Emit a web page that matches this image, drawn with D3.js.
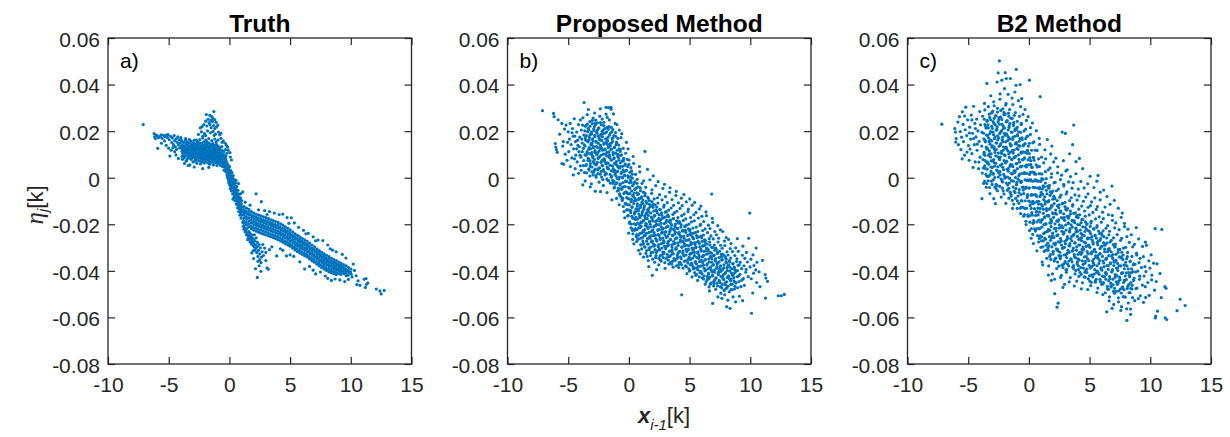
<!DOCTYPE html>
<html>
<head>
<meta charset="utf-8">
<script src="https://cdn.jsdelivr.net/npm/d3@7"></script>
<style>
html,body{margin:0;padding:0;background:#fff;}
svg{display:block;}
</style>
</head>
<body>
<svg id="fig" width="1230" height="437"></svg>
<script>
// Axis ticks shared by the three panels
const xTicks = [-10, -5, 0, 5, 10, 15];
const yTicks = [0.06, 0.04, 0.02, 0, -0.02, -0.04, -0.06, -0.08];
const xDomain = [-10, 15];
const yDomain = [-0.08, 0.06];
const panelTitles = ["Truth", "Proposed Method", "B2 Method"];
const panelTags = ["a)", "b)", "c)"];

// (x_{i-1}[k], eta_j[k]) samples, true relationship
const truthPts = [
[-7.1,.0228],
[-6.2,.0189],[-6.15,.0176],[-6.05,.0183],[-6.1,.0168],[-5.95,.0181],[-5.85,.0172],[-5.9,.0126],[-5.7,.0179],[-5.6,.0184],[-5.55,.0169],[-5.4,.0181],[-5.3,.0176],[-5.35,.0158],[-5.2,.0183],[-5.1,.0172],[-5.05,.0185],[-4.95,.0163],[-4.9,.0093],[-4.85,.0178],[-4.75,.0151],[-4.7,.0171],[-4.6,.0142],[-4.55,.0181],[-4.5,.0159],[-4.45,.0133],[-4.4,.0167],[-5.6,.0148],[-5.2,.0139],[-5.0,.0127],[-4.8,.0118],[-4.65,.0129],[-4.5,.0112],[-4.35,.0122],[-4.3,.0152],[-4.25,.0175],[-4.2,.0141],[-4.15,.0163],[-4.1,.0128],[-4.05,.0149],[-4.0,.0172],[-3.95,.0137],
[-3.92,.0158],[-3.88,.0141],[-3.95,.0131],[-3.86,.0122],[-3.91,.0113],[-3.84,.0104],[-3.9,.0092],[-3.87,.0079],
[-3.77,.0152],[-3.72,.0137],[-3.78,.0127],[-3.74,.0118],[-3.71,.0108],[-3.76,.0097],[-3.73,.0086],
[-3.62,.0161],[-3.58,.0146],[-3.64,.0133],[-3.57,.0124],[-3.61,.0115],[-3.59,.0105],[-3.63,.0093],[-3.56,.0071],
[-3.47,.0153],[-3.43,.0139],[-3.48,.0128],[-3.42,.0119],[-3.46,.0109],[-3.44,.0099],[-3.41,.0087],[-3.49,.0078],
[-3.31,.0149],[-3.28,.0135],[-3.33,.0126],[-3.27,.0116],[-3.32,.0107],[-3.29,.0096],[-3.26,.0055],[-3.3,.0085],
[-3.17,.0157],[-3.13,.0142],[-3.16,.0131],[-3.12,.0121],[-3.18,.0112],[-3.14,.0102],[-3.11,.0091],[-3.15,.0079],
[-3.02,.0151],[-2.98,.0138],[-3.01,.0127],[-2.97,.0117],[-3.03,.0108],[-2.99,.0097],[-2.96,.0086],[-3.0,.0068],
[-2.87,.0146],[-2.83,.0134],[-2.86,.0124],[-2.82,.0114],[-2.88,.0104],[-2.84,.0093],[-2.81,.0082],[-2.85,.0071],
[-2.72,.0161],[-2.68,.0143],[-2.71,.0131],[-2.67,.0121],[-2.73,.0111],[-2.69,.0101],[-2.66,.0089],[-2.7,.0077],[-2.68,.0062],
[-2.57,.0152],[-2.53,.0139],[-2.56,.0128],[-2.52,.0117],[-2.58,.0107],[-2.54,.0097],[-2.51,.0086],[-2.55,.0074],
[-2.42,.0149],[-2.38,.0136],[-2.41,.0125],[-2.37,.0114],[-2.43,.0104],[-2.39,.0094],[-2.36,.0083],[-2.4,.0071],[-2.38,.0059],
[-2.27,.0146],[-2.23,.0133],[-2.26,.0122],[-2.22,.0112],[-2.28,.0102],[-2.24,.0091],[-2.21,.0081],[-2.25,.0069],
[-2.12,.0154],[-2.08,.0139],[-2.11,.0128],[-2.07,.0118],[-2.13,.0108],[-2.09,.0097],[-2.06,.0087],[-2.1,.0076],[-2.08,.0063],
[-1.97,.0147],[-1.93,.0133],[-1.96,.0123],[-1.92,.0112],[-1.98,.0102],[-1.94,.0092],[-1.91,.0081],[-1.95,.0069],
[-1.82,.0143],[-1.78,.0131],[-1.81,.0119],[-1.77,.0109],[-1.83,.0099],[-1.79,.0088],[-1.76,.0077],[-1.8,.0064],
[-1.67,.0149],[-1.63,.0136],[-1.66,.0125],[-1.62,.0115],[-1.68,.0104],[-1.64,.0094],[-1.61,.0083],[-1.65,.0072],[-1.63,.0058],
[-1.52,.0142],[-1.48,.0131],[-1.51,.0119],[-1.47,.0109],[-1.53,.0099],[-1.49,.0088],[-1.46,.0078],[-1.5,.0066],
[-1.37,.0146],[-1.33,.0134],[-1.36,.0122],[-1.32,.0112],[-1.38,.0101],[-1.34,.0091],[-1.31,.0081],[-1.35,.0069],[-1.33,.0055],
[-1.22,.0139],[-1.18,.0127],[-1.21,.0116],[-1.17,.0106],[-1.23,.0096],[-1.19,.0085],[-1.16,.0075],[-1.2,.0063],
[-1.07,.0143],[-1.03,.0131],[-1.06,.0119],[-1.02,.0109],[-1.08,.0098],[-1.04,.0088],[-1.01,.0077],[-1.05,.0066],[-1.03,.0052],
[-0.92,.0136],[-0.88,.0124],[-0.91,.0113],[-0.87,.0103],[-0.93,.0093],[-0.89,.0082],[-0.86,.0072],[-0.9,.0061],
[-0.77,.0129],[-0.73,.0118],[-0.76,.0107],[-0.72,.0097],[-0.78,.0087],[-0.74,.0076],[-0.71,.0066],[-0.75,.0054],
[-0.62,.0134],[-0.58,.0116],[-0.61,.0103],[-0.57,.0092],[-0.63,.0081],[-0.59,.0071],[-0.56,.0061],[-0.6,.0049],
[-0.47,.0112],[-0.43,.0098],[-0.46,.0087],[-0.42,.0077],[-0.48,.0066],[-0.44,.0056],[-0.41,.0045],[-0.45,.0032],
[-0.32,.0121],[-0.28,.0093],[-0.31,.0081],[-0.27,.0071],[-0.33,.0061],[-0.29,.0049],[-0.26,.0038],[-0.3,.0026],
[-2.9,.0046],[-2.2,.0039],[-1.7,.0044],[-3.4,.0052],[-4.2,.0083],[-4.4,.0098],[-3.7,.0061],
[-1.28,.0284],[-1.9,.0271],[-1.45,.0262],[-1.62,.0268],[-1.35,.0255],
[-1.75,.0251],[-1.52,.0247],[-1.2,.0249],[-1.95,.0243],[-1.4,.0241],[-1.1,.0238],[-1.68,.0237],
[-2.4,.0214],[-2.1,.0228],[-1.85,.0222],[-1.6,.0229],[-1.3,.0224],[-1.05,.0218],[-1.5,.0215],[-2.25,.0219],[-1.2,.0211],[-0.95,.0226],
[-2.55,.0186],[-2.3,.0197],[-2.05,.0189],[-1.8,.0201],[-1.55,.0193],[-1.35,.0199],[-1.15,.0187],[-0.9,.0196],[-0.7,.0191],[-1.95,.0181],[-1.25,.0182],[-0.8,.0184],[-2.2,.0178],
[-2.45,.0164],[-2.2,.0171],[-1.95,.0162],[-1.7,.0168],[-1.45,.0159],[-1.2,.0166],[-0.95,.0161],[-0.7,.0169],[-0.5,.0158],[-0.35,.0148],[-0.25,.0139],[-1.85,.0155],[-1.1,.0153],[-0.6,.0152],[-2.65,.0154],[-2.9,.0161],[-3.3,.0164],[-3.6,.0168],[-4.0,.0162],
[-0.15,.0131],[-0.1,.0118],[0.05,.0108],[0.17,.0076],[-0.2,.0105],[0.08,.0089],
[-0.21,.0062],[-0.18,.0049],[-0.22,.0037],[-0.17,.0025],[-0.2,.0013],[-0.16,.0001],
[-0.11,.0055],[-0.08,.0041],[-0.12,.0029],[-0.07,.0016],[-0.1,.0004],[-0.09,-.0009],[-0.06,-.0021],
[0.01,.0048],[-0.02,.0033],[0.02,.0019],[-0.01,.0006],[0.03,-.0007],[0.0,-.0019],[0.02,-.0031],
[0.11,.0031],[0.08,.0018],[0.12,.0004],[0.09,-.0009],[0.13,-.0022],[0.1,-.0035],[0.07,-.0047],
[0.21,.0022],[0.18,.0008],[0.22,-.0006],[0.19,-.0019],[0.23,-.0032],[0.2,-.0044],[0.17,-.0057],
[0.31,.0009],[0.28,-.0004],[0.32,-.0018],[0.29,-.0031],[0.33,-.0044],[0.3,-.0057],[0.27,-.0069],
[0.41,-.0008],[0.38,-.0021],[0.42,-.0034],[0.39,-.0047],[0.43,-.0059],[0.4,-.0071],[0.37,-.0083],
[0.51,-.0023],[0.48,-.0037],[0.52,-.0049],[0.49,-.0062],[0.53,-.0074],[0.5,-.0087],[0.47,-.0099],
[0.61,-.0038],[0.58,-.0052],[0.62,-.0064],[0.59,-.0077],[0.63,-.0089],[0.6,-.0101],[0.57,-.0113],
[0.71,-.0054],[0.68,-.0068],[0.72,-.0081],[0.69,-.0093],[0.73,-.0105],[0.7,-.0117],[0.67,-.0129],
[0.81,-.0071],[0.78,-.0085],[0.82,-.0097],[0.79,-.0109],[0.83,-.0121],[0.8,-.0133],[0.77,-.0145],
[0.91,-.0087],[0.88,-.0101],[0.92,-.0113],[0.89,-.0125],[0.93,-.0137],[0.9,-.0149],[0.87,-.0161],
[1.01,-.0098],[0.98,-.0112],[1.02,-.0124],[0.99,-.0136],[1.03,-.0148],[1.0,-.0161],[0.97,-.0174],
[0.55,-.0012],[0.95,-.0068],[0.3,-.0092],[1.1,-.0061],[0.75,-.0025],
[1.21,-.0124],[1.18,-.0137],[1.23,-.0149],[1.19,-.016],[1.22,-.0172],[1.17,-.0184],[1.2,-.0196],
[1.41,-.0131],[1.38,-.0144],[1.43,-.0155],[1.39,-.0167],[1.42,-.0178],[1.37,-.0191],[1.4,-.0203],
[1.61,-.0136],[1.58,-.0149],[1.63,-.0161],[1.59,-.0173],[1.62,-.0186],[1.57,-.0198],[1.6,-.0211],
[1.81,-.0146],[1.78,-.0158],[1.83,-.017],[1.79,-.0182],[1.82,-.0194],[1.77,-.0207],[1.8,-.0219],
[2.01,-.0152],[1.98,-.0164],[2.03,-.0177],[1.99,-.0189],[2.02,-.0201],[1.97,-.0213],[2.0,-.0225],
[2.21,-.0157],[2.18,-.0169],[2.23,-.0181],[2.19,-.0193],[2.22,-.0205],[2.17,-.0217],[2.2,-.0229],
[2.41,-.0161],[2.38,-.0173],[2.43,-.0185],[2.39,-.0197],[2.42,-.0209],[2.37,-.0221],[2.4,-.0234],
[2.61,-.0164],[2.58,-.0177],[2.63,-.0189],[2.59,-.0201],[2.62,-.0213],[2.57,-.0225],[2.6,-.0238],
[2.81,-.0168],[2.78,-.0181],[2.83,-.0193],[2.79,-.0205],[2.82,-.0217],[2.77,-.0229],[2.8,-.0242],
[3.01,-.0171],[2.98,-.0184],[3.03,-.0197],[2.99,-.0209],[3.02,-.0221],[2.97,-.0233],[3.0,-.0246],
[3.21,-.0176],[3.18,-.0189],[3.23,-.0201],[3.19,-.0213],[3.22,-.0225],[3.17,-.0237],[3.2,-.0249],
[3.41,-.0181],[3.38,-.0193],[3.43,-.0205],[3.39,-.0217],[3.42,-.0229],[3.37,-.0241],[3.4,-.0253],
[3.61,-.0184],[3.58,-.0197],[3.63,-.0209],[3.59,-.0221],[3.62,-.0233],[3.57,-.0245],[3.6,-.0257],
[3.81,-.0188],[3.78,-.0201],[3.83,-.0213],[3.79,-.0225],[3.82,-.0237],[3.77,-.0249],[3.8,-.0261],
[4.01,-.0192],[3.98,-.0205],[4.03,-.0217],[3.99,-.0229],[4.02,-.0241],[3.97,-.0253],[4.0,-.0266],
[4.21,-.0198],[4.18,-.0211],[4.23,-.0223],[4.19,-.0235],[4.22,-.0247],[4.17,-.0259],[4.2,-.0271],
[4.41,-.0204],[4.38,-.0217],[4.43,-.0229],[4.39,-.0241],[4.42,-.0253],[4.37,-.0265],[4.4,-.0277],
[4.61,-.0211],[4.58,-.0223],[4.63,-.0235],[4.59,-.0247],[4.62,-.0259],[4.57,-.0271],[4.6,-.0283],
[4.81,-.0217],[4.78,-.0229],[4.83,-.0241],[4.79,-.0253],[4.82,-.0265],[4.77,-.0277],[4.8,-.0289],
[5.01,-.0224],[4.98,-.0236],[5.03,-.0248],[4.99,-.0259],[5.02,-.0271],[4.97,-.0283],[5.0,-.0294],
[5.21,-.0233],[5.18,-.0245],[5.23,-.0256],[5.19,-.0267],[5.22,-.0279],[5.17,-.0291],[5.2,-.0302],
[5.41,-.0241],[5.38,-.0253],[5.43,-.0264],[5.39,-.0275],[5.42,-.0287],[5.37,-.0299],[5.4,-.031],
[5.61,-.0248],[5.58,-.026],[5.63,-.0271],[5.59,-.0282],[5.62,-.0294],[5.57,-.0306],[5.6,-.0317],
[5.81,-.0254],[5.78,-.0266],[5.83,-.0277],[5.79,-.0288],[5.82,-.03],[5.77,-.0312],[5.8,-.0323],
[6.01,-.0261],[5.98,-.0273],[6.03,-.0284],[5.99,-.0295],[6.02,-.0306],[5.97,-.0318],[6.0,-.0329],
[6.21,-.0267],[6.18,-.0279],[6.23,-.029],[6.19,-.0301],[6.22,-.0312],[6.17,-.0324],[6.2,-.0335],
[6.41,-.0273],[6.38,-.0285],[6.43,-.0296],[6.39,-.0307],[6.42,-.0318],[6.37,-.033],[6.4,-.0341],
[6.61,-.0281],[6.58,-.0293],[6.63,-.0304],[6.59,-.0315],[6.62,-.0326],[6.57,-.0338],[6.6,-.0349],
[6.81,-.0289],[6.78,-.0301],[6.83,-.0312],[6.79,-.0323],[6.82,-.0334],[6.77,-.0346],[6.8,-.0357],
[7.01,-.0297],[6.98,-.0308],[7.03,-.0319],[6.99,-.033],[7.02,-.0341],[6.97,-.0352],[7.0,-.0363],
[7.21,-.0305],[7.18,-.0316],[7.23,-.0327],[7.19,-.0338],[7.22,-.0349],[7.17,-.036],[7.2,-.0371],
[7.41,-.0313],[7.38,-.0324],[7.43,-.0335],[7.39,-.0346],[7.42,-.0357],[7.37,-.0368],[7.4,-.0379],
[7.61,-.032],[7.58,-.0331],[7.63,-.0342],[7.59,-.0353],[7.62,-.0364],[7.57,-.0375],[7.6,-.0386],
[7.81,-.0327],[7.78,-.0338],[7.83,-.0349],[7.79,-.0359],[7.82,-.037],[7.77,-.0381],[7.8,-.0392],
[8.01,-.0333],[7.98,-.0344],[8.03,-.0355],[7.99,-.0365],[8.02,-.0376],[7.97,-.0387],[8.0,-.0398],
[8.21,-.0339],[8.18,-.035],[8.23,-.0361],[8.19,-.0371],[8.22,-.0382],[8.17,-.0393],[8.2,-.0404],
[8.41,-.0346],[8.38,-.0357],[8.43,-.0367],[8.39,-.0377],[8.42,-.0388],[8.37,-.0398],[8.4,-.0409],
[8.61,-.0352],[8.58,-.0362],[8.63,-.0372],[8.59,-.0382],[8.62,-.0392],[8.57,-.0402],[8.6,-.0412],
[8.81,-.0356],[8.78,-.0366],[8.83,-.0376],[8.79,-.0386],[8.82,-.0396],[8.77,-.0406],[8.8,-.0416],
[9.01,-.0362],[8.98,-.0372],[9.03,-.0381],[8.99,-.0391],[9.02,-.0401],[8.97,-.0411],
[9.21,-.0368],[9.18,-.0377],[9.23,-.0387],[9.19,-.0396],[9.22,-.0406],[9.17,-.0416],
[9.41,-.0373],[9.38,-.0384],[9.43,-.0393],[9.39,-.0402],[9.42,-.0412],
[9.61,-.0378],[9.58,-.0391],[9.63,-.04],[9.59,-.041],[9.62,-.0421],
[9.81,-.0385],[9.78,-.0398],[9.83,-.0407],[9.79,-.0418],
[10.01,-.0392],[9.98,-.0404],[10.03,-.0414],[10.1,-.0426],
[10.3,-.0398],[10.45,-.0421],[10.6,-.0443],[10.5,-.0459],[10.75,-.0462],[11.1,-.0436],[11.25,-.0433],[11.3,-.0458],[11.2,-.0471],[11.4,-.0452],[12.1,-.0478],[12.5,-.0499],[12.75,-.0484],[12.4,-.0486],
[1.3,-.0105],[1.7,-.0118],[2.2,-.0069],[2.63,-.0103],[2.9,-.0141],[3.3,-.0145],[3.7,-.0152],[4.1,-.0158],[4.4,-.0156],[4.75,-.0171],[5.1,-.0172],[5.35,-.0194],[5.7,-.0213],[6.1,-.0226],[6.5,-.0239],[6.9,-.0254],[7.3,-.0268],[7.7,-.027],[8.1,-.0289],[8.5,-.0311],[8.8,-.0318],[9.3,-.0329],[9.6,-.0345],[10.2,-.0371],[4.9,-.0196],[3.1,-.0158],[2.4,-.0138],[6.3,-.0241],[7.1,-.0271],[8.3,-.0305],
[3.9,-.0336],[4.7,-.0336],[6.2,-.0392],[7.1,-.0413],[9.1,-.0439],[5.3,-.0338],[5.8,-.0361],[6.6,-.0381],[7.5,-.0405],[8.1,-.0432],[8.7,-.0435],[9.5,-.0446],[4.2,-.0305],[3.5,-.0297],[5.0,-.0331],[6.9,-.0397],[7.9,-.0422],[8.4,-.0441],[9.8,-.0437],[4.4,-.0312],
[1.1,-.0192],[1.15,-.0208],[1.2,-.0221],[1.25,-.0214],[1.3,-.0233],[1.35,-.0226],[1.4,-.0245],[1.45,-.0218],[1.5,-.0238],[1.55,-.0254],[1.5,-.0266],[1.6,-.0231],[1.6,-.0247],[1.65,-.0262],[1.7,-.0275],[1.7,-.0239],[1.75,-.0253],[1.8,-.0268],[1.8,-.0284],[1.85,-.0246],[1.9,-.0259],[1.9,-.0276],[1.95,-.0291],[2.0,-.0265],[2.0,-.0282],[2.05,-.0298],[2.05,-.0245],[2.1,-.0271],[2.1,-.0311],[2.15,-.0289],[2.2,-.0302],[2.2,-.0258],[2.25,-.0321],[2.3,-.0278],[2.3,-.0296],[2.35,-.0338],[2.4,-.0312],[2.45,-.0287],[2.5,-.0352],[2.5,-.0327],[2.55,-.0301],[2.6,-.0365],[2.65,-.0341],[2.7,-.0318],[2.75,-.0287],[2.8,-.0334],[2.9,-.0302],[3.0,-.0356],[3.1,-.0387],[2.3,-.0428],[2.15,-.0391],[2.0,-.0347],[1.85,-.0323],[2.45,-.0378],[2.6,-.0402],[3.2,-.0393],[3.0,-.0321],[3.3,-.0309],[1.95,-.0314],[2.35,-.0359]
];

// Estimates from the proposed method: outer spread
const proposedPts = [
[-7.12,.0288],[-6.21,.0276],[-6.16,.0262],[-5.83,.0249],[-6.07,.0147],[-6.02,.0132],[-5.97,.0121],[-5.9,.0109],[-5.52,.0061],[-5.52,.0233],[-5.4,.0155],[-5.45,.0136],[-5.3,.0209],[-5.18,.0226],[-5.1,.0075],[-5.38,.0058],[-5.0,.0197],[-4.84,.0233],[-4.9,.0166],[-4.95,.0112],[-4.76,.0142],[-4.7,.0085],[-4.65,.0211],[-4.6,.0178],[-4.55,.0124],[-4.43,.0039],[-4.5,.0253],[-4.4,.0155],[-4.37,.0097],[-4.3,.0196],[-4.26,.0068],[-4.2,.0139],[-4.15,.0228],[-4.11,.0112],[-4.05,.0174],[-4.0,.0051],[-3.95,.0088],[-3.91,.0205],[-3.8,-.0031],[-3.85,.0149],[-3.79,.0257],[-3.75,.0126],[-3.71,.0183],[-3.69,.0323],[-3.66,.0022],[-3.62,.0098],[-3.6,.0221],[-3.57,.0162],[-5.7,.0187],[-5.25,.0101],[-4.82,.0048],[-4.58,.0012],[-4.15,.0019],[-4.0,.0248],[-3.93,.0032],[-3.72,.0074],[-5.05,.0152],[-4.68,.0193],[-4.45,.0179],[-4.22,.0161],[-4.08,.0133],[-3.88,.0166],[-3.84,.0112],[-3.67,.0141],[-3.63,.0201],[-4.3,.0124],[-4.48,.0081],[-4.02,.0097],[-3.82,.0226],[-3.76,.0052],
[-3.43,.0271],[-3.54,.0224],[-3.4,.0198],[-3.59,.0172],[-3.47,.0159],[-3.61,.0136],[-3.45,.0111],[-3.52,.0097],[-3.38,.0074],[-3.57,.0052],[-3.49,.0021],[-3.6,-.0014],
[-3.34,.0293],[-3.22,.0241],[-3.36,.0212],[-3.2,.0185],[-3.27,.0163],[-3.13,.0141],[-3.32,.0122],[-3.24,.0104],[-3.35,.0083],[-3.17,.0061],[-3.3,.0038],[-3.21,.0007],[-3.18,-.0039],
[-2.95,.0256],[-3.02,.0232],[-2.88,.0203],[-3.07,.0188],[-2.99,.0167],[-3.1,.0146],[-2.92,.0129],[-3.05,.0108],[-2.96,.0092],[-2.93,.0069],[-3.04,.0046],[-2.9,.0024],[-3.09,-.0026],
[-2.82,.0278],[-2.74,.0247],[-2.85,.0219],[-2.67,.0197],[-2.8,.0176],[-2.71,.0153],[-2.68,.0134],[-2.79,.0116],[-2.65,.0099],[-2.84,.0078],[-2.72,.0055],[-2.86,.0031],[-2.7,.0002],[-2.77,-.0058],
[-2.4,.0264],[-2.59,.0236],[-2.47,.0214],[-2.61,.0191],[-2.45,.0169],[-2.52,.0148],[-2.38,.0125],[-2.57,.0106],[-2.49,.0087],[-2.6,.0066],[-2.42,.0042],[-2.55,.0018],[-2.46,-.0019],
[-2.36,.0296],[-2.2,.0252],[-2.27,.0227],[-2.13,.0205],[-2.32,.0182],[-2.24,.016],[-2.35,.0139],[-2.17,.0118],[-2.3,.0096],[-2.21,.0075],[-2.18,.0051],[-2.29,.0027],[-2.15,-.0008],[-2.34,-.006],
[-1.88,.0273],[-2.07,.0238],[-1.99,.0211],[-2.1,.0189],[-1.92,.0166],[-2.05,.0144],[-1.96,.0123],[-1.93,.0102],[-2.04,.0081],[-1.9,.0059],[-2.09,.0035],[-1.97,.0012],[-2.11,-.0033],
[-1.88,.0302],[-1.47,.0302],
[-1.68,.0301],[-1.79,.0259],[-1.65,.022],[-1.84,.0196],[-1.72,.0174],[-1.86,.0151],[-1.7,.013],[-1.77,.0109],[-1.63,.0088],[-1.82,.0064],[-1.74,.004],[-1.85,.0016],[-1.67,-.0012],[-1.8,-.0064],
[-1.47,.0294],[-1.61,.0248],[-1.45,.0216],[-1.52,.0192],[-1.38,.0168],[-1.57,.0145],[-1.49,.0121],[-1.6,.0098],[-1.42,.0076],[-1.55,.0053],[-1.46,.003],[-1.43,.0006],[-1.54,-.0023],[-1.4,-.0095],
[-1.27,.0274],[-1.13,.0233],[-1.32,.0207],[-1.24,.0181],[-1.35,.0156],[-1.17,.0132],[-1.3,.0109],[-1.21,.0085],[-1.18,.0062],[-1.29,.0039],[-1.15,.0014],[-1.34,-.0011],[-1.22,-.0044],
[-0.99,.0228],[-1.1,.0194],[-0.92,.0169],[-1.05,.0142],[-0.96,.0118],[-0.93,.0093],[-1.04,.0069],[-0.9,.0046],[-1.09,.0022],[-0.97,-.0003],[-1.11,-.0028],[-0.95,-.0057],[-1.02,-.0089],
[-0.79,.0205],[-0.65,.0172],[-0.84,.014],[-0.72,.0113],[-0.86,.0087],[-0.7,.0064],[-0.77,.0041],[-0.63,.0018],[-0.82,-.0006],[-0.74,-.0031],[-0.85,-.0055],[-0.67,-.0082],[-0.8,-.0116],
[-0.59,.0189],[-0.47,.0126],[-0.61,.0098],[-0.45,.0072],[-0.52,.0049],[-0.38,.0026],[-0.57,.0003],[-0.49,-.0021],[-0.6,-.0044],[-0.42,-.0068],[-0.55,-.0093],[-0.46,-.0124],
[-0.2,.0152],[-0.27,.0105],[-0.13,.0079],[-0.32,.0054],[-0.24,.003],[-0.35,.0008],[-0.17,-.0015],[-0.3,-.0038],[-0.21,-.0061],[-0.18,-.0085],[-0.29,-.011],[-0.15,-.0137],[-0.34,-.0172],
[-0.07,.0124],[0.01,.0076],[-0.1,.0048],[0.08,.0023],[-0.05,.0001],[0.04,-.0022],[0.07,-.0045],[-0.04,-.0069],[0.1,-.0092],[-0.09,-.0115],[0.03,-.0139],[-0.11,-.0164],[0.05,-.0196],[-0.02,-.0238],
[0.35,.0091],[0.16,.0043],[0.28,.0015],[0.14,-.001],[0.3,-.0034],[0.23,-.0057],[0.37,-.008],[0.18,-.0103],[0.26,-.0127],[0.15,-.015],[0.33,-.0174],[0.2,-.0199],[0.29,-.0226],[0.32,-.0265],
[0.39,.0062],[0.55,.0014],[0.48,-.0018],[0.62,-.0043],[0.43,-.0066],[0.51,-.0089],[0.4,-.0111],[0.58,-.0134],[0.45,-.0156],[0.54,-.0179],[0.57,-.0202],[0.46,-.0226],[0.6,-.0253],[0.41,-.0284],
[0.87,.0048],[0.68,-.0007],[0.76,-.0039],[0.65,-.0065],[0.83,-.0089],[0.7,-.0112],[0.79,-.0134],[0.82,-.0156],[0.71,-.0178],[0.85,-.02],[0.66,-.0223],[0.78,-.0247],[0.64,-.0274],[0.8,-.0312],
[0.9,.0025],[1.08,-.0024],[0.95,-.0056],[1.04,-.0082],[1.07,-.0106],[0.96,-.0128],[1.1,-.015],[0.91,-.0171],[1.03,-.0193],[0.89,-.0215],[1.05,-.0237],[0.98,-.026],[1.12,-.0286],[0.93,-.0327],
[1.32,.0113],[1.21,-.0013],[1.35,-.0068],[1.16,-.0096],[1.28,-.0121],[1.14,-.0143],[1.3,-.0164],[1.23,-.0185],[1.37,-.0206],[1.18,-.0227],[1.26,-.0249],[1.15,-.0272],[1.33,-.0298],[1.2,-.0341],
[1.53,.0036],[1.39,-.0041],[1.55,-.0083],[1.48,-.011],[1.62,-.0133],[1.43,-.0155],[1.51,-.0176],[1.4,-.0197],[1.58,-.0218],[1.45,-.0239],[1.54,-.0261],[1.57,-.0285],[1.46,-.0313],[1.6,-.0356],
[1.73,-.0009],[1.87,-.0067],[1.68,-.0098],[1.76,-.0124],[1.65,-.0147],[1.83,-.0169],[1.7,-.019],[1.79,-.0211],[1.82,-.0232],[1.71,-.0253],[1.85,-.0276],[1.66,-.0302],[1.78,-.0334],[1.64,-.0382],
[2.01,.0008],[1.9,-.0052],[2.08,-.0091],[1.95,-.0119],[2.04,-.0143],[2.07,-.0165],[1.96,-.0186],[2.1,-.0207],[1.91,-.0228],[2.03,-.0249],[1.89,-.0271],[2.05,-.0294],[1.98,-.032],[2.12,-.0363],[1.93,-.0419],
[2.21,-.0034],[2.35,-.0086],[2.16,-.0116],[2.28,-.0141],[2.14,-.0163],[2.3,-.0184],[2.23,-.0205],[2.37,-.0226],[2.18,-.0247],[2.26,-.0268],[2.15,-.029],[2.33,-.0314],[2.2,-.0343],[2.29,-.0395],
[2.41,-.0017],[2.53,-.0073],[2.39,-.0109],[2.55,-.0136],[2.48,-.0159],[2.62,-.0181],[2.43,-.0202],[2.51,-.0223],[2.4,-.0244],[2.58,-.0265],[2.45,-.0287],[2.54,-.031],[2.57,-.0336],[2.46,-.0374],
[2.8,-.0046],[2.73,-.0095],[2.87,-.0126],[2.68,-.0151],[2.76,-.0174],[2.65,-.0196],[2.83,-.0217],[2.7,-.0238],[2.79,-.0259],[2.82,-.028],[2.71,-.0302],[2.85,-.0326],[2.66,-.0358],
[2.93,-.0028],[3.01,-.0081],[2.9,-.0118],[3.08,-.0146],[2.95,-.017],[3.04,-.0192],[3.07,-.0213],[2.96,-.0234],[3.1,-.0255],[2.91,-.0276],[3.03,-.0298],[2.89,-.0321],[3.05,-.0347],[2.98,-.0389],
[3.35,-.0062],[3.16,-.0107],[3.28,-.0139],[3.14,-.0165],[3.3,-.0188],[3.23,-.021],[3.37,-.0231],[3.18,-.0252],[3.26,-.0273],[3.15,-.0294],[3.33,-.0316],[3.2,-.034],[3.29,-.0371],
[3.39,-.0043],[3.55,-.0094],[3.48,-.013],[3.62,-.0158],[3.43,-.0182],[3.51,-.0204],[3.4,-.0225],[3.58,-.0246],[3.45,-.0267],[3.54,-.0288],[3.57,-.031],[3.46,-.0333],[3.6,-.0359],
[3.87,-.0076],[3.68,-.0119],[3.76,-.015],[3.65,-.0176],[3.83,-.0199],[3.7,-.0221],[3.79,-.0242],[3.82,-.0263],[3.71,-.0284],[3.85,-.0305],[3.66,-.0327],[3.78,-.0351],[3.64,-.0384],
[3.9,-.0059],[4.08,-.0108],[3.95,-.0144],[4.04,-.0171],[4.07,-.0195],[3.96,-.0217],[4.1,-.0238],[3.91,-.0259],[4.03,-.028],[3.89,-.0301],[4.05,-.0323],[3.98,-.0346],[4.12,-.0372],
[4.32,-.0088],[4.21,-.0132],[4.35,-.0163],[4.16,-.0189],[4.28,-.0212],[4.14,-.0234],[4.3,-.0255],[4.23,-.0276],[4.37,-.0297],[4.18,-.0318],[4.26,-.034],[4.15,-.0365],[4.35,-.0503],
[4.53,-.0072],[4.39,-.012],[4.55,-.0156],[4.48,-.0184],[4.62,-.0208],[4.43,-.023],[4.51,-.0251],[4.4,-.0272],[4.58,-.0293],[4.45,-.0314],[4.54,-.0336],[4.57,-.0359],[4.46,-.0388],
[4.73,-.0104],[4.87,-.0146],[4.68,-.0177],[4.76,-.0203],[4.65,-.0226],[4.83,-.0248],[4.7,-.0269],[4.79,-.029],[4.82,-.0311],[4.71,-.0332],[4.85,-.0354],[4.66,-.0378],[4.78,-.0412],
[5.01,-.0091],[4.9,-.0135],[5.08,-.0171],[4.95,-.0199],[5.04,-.0223],[5.07,-.0245],[4.96,-.0266],[5.1,-.0287],[4.91,-.0308],[5.03,-.0329],[4.89,-.0351],[5.05,-.0374],[4.98,-.0401],
[5.21,-.0118],[5.35,-.0159],[5.16,-.019],[5.28,-.0216],[5.14,-.0239],[5.3,-.0261],[5.23,-.0282],[5.37,-.0303],[5.18,-.0324],[5.26,-.0345],[5.15,-.0367],[5.33,-.0392],[5.2,-.0426],
[5.41,-.0106],[5.53,-.0149],[5.39,-.0185],[5.55,-.0212],[5.48,-.0236],[5.62,-.0258],[5.43,-.0279],[5.51,-.03],[5.4,-.0321],[5.58,-.0342],[5.45,-.0364],[5.54,-.0388],[5.57,-.0415],
[5.8,-.0134],[5.73,-.0173],[5.87,-.0205],[5.68,-.0231],[5.76,-.0254],[5.65,-.0276],[5.83,-.0297],[5.7,-.0318],[5.79,-.0339],[5.82,-.036],[5.71,-.0382],[5.85,-.0407],[5.66,-.0441],
[5.93,-.0122],[6.01,-.0166],[5.9,-.02],[6.08,-.0227],[5.95,-.0251],[6.04,-.0273],[6.07,-.0294],[5.96,-.0315],[6.1,-.0336],[5.91,-.0357],[6.03,-.0379],[5.89,-.0402],[6.05,-.043],
[6.35,-.0147],[6.16,-.0188],[6.28,-.022],[6.14,-.0246],[6.3,-.0269],[6.23,-.0291],[6.37,-.0312],[6.18,-.0333],[6.26,-.0354],[6.15,-.0375],[6.33,-.0397],[6.2,-.0422],[6.29,-.0458],
[6.39,-.0163],[6.55,-.0204],[6.48,-.0236],[6.62,-.0262],[6.43,-.0285],[6.51,-.0307],[6.4,-.0328],[6.58,-.0349],[6.45,-.037],[6.54,-.0391],[6.57,-.0413],[6.46,-.0437],[6.6,-.0469],
[6.82,-.007],
[6.87,-.0175],[6.68,-.0218],[6.76,-.025],[6.65,-.0276],[6.83,-.0299],[6.7,-.0321],[6.79,-.0342],[6.82,-.0363],[6.71,-.0384],[6.85,-.0405],[6.66,-.0427],[6.78,-.0451],[6.64,-.0486],
[6.9,-.0192],[7.08,-.0231],[6.95,-.0263],[7.04,-.0289],[7.07,-.0312],[6.96,-.0334],[7.1,-.0355],[6.91,-.0376],[7.03,-.0397],[6.89,-.0418],[7.05,-.044],[6.98,-.0465],[6.9,-.054],
[7.32,-.0206],[7.21,-.0245],[7.35,-.0276],[7.16,-.0302],[7.28,-.0325],[7.14,-.0347],[7.3,-.0368],[7.23,-.0389],[7.37,-.041],[7.18,-.0431],[7.26,-.0453],[7.15,-.0479],[7.33,-.0512],
[7.53,-.0224],[7.39,-.026],[7.55,-.029],[7.48,-.0316],[7.62,-.0339],[7.43,-.0361],[7.51,-.0382],[7.4,-.0403],[7.58,-.0424],[7.45,-.0445],[7.54,-.0468],[7.57,-.0496],
[7.73,-.0231],[7.87,-.0272],[7.68,-.0303],[7.76,-.0329],[7.65,-.0352],[7.83,-.0374],[7.7,-.0395],[7.79,-.0416],[7.82,-.0437],[7.71,-.0459],[7.85,-.0484],[7.66,-.0518],
[8.01,-.0257],[7.9,-.0291],[8.08,-.0318],[7.95,-.0342],[8.04,-.0365],[8.07,-.0387],[7.96,-.0408],[8.1,-.0429],[7.91,-.0451],[8.03,-.0475],[7.89,-.0503],[8.05,-.0554],
[8.21,-.0265],[8.35,-.0304],[8.16,-.0332],[8.28,-.0356],[8.14,-.0379],[8.3,-.0401],[8.23,-.0422],[8.37,-.0443],[8.18,-.0465],[8.26,-.049],[8.15,-.0526],[8.33,-.0561],
[8.41,-.0283],[8.53,-.0317],[8.39,-.0345],[8.55,-.0369],[8.48,-.0392],[8.62,-.0414],[8.43,-.0435],[8.51,-.0457],[8.4,-.0481],[8.58,-.0512],
[8.8,-.0301],[8.73,-.0334],[8.87,-.036],[8.68,-.0384],[8.76,-.0407],[8.65,-.0429],[8.83,-.0452],[8.7,-.0478],[8.79,-.0533],
[8.93,-.0262],[9.01,-.0316],[8.9,-.0348],[9.08,-.0375],[8.95,-.0399],[9.04,-.0422],[9.07,-.0446],[8.96,-.0473],[9.1,-.0509],
[9.35,-.0333],[9.16,-.0364],[9.28,-.039],[9.14,-.0415],[9.3,-.044],[9.23,-.0468],[9.37,-.0528],
[9.39,-.0294],[9.55,-.0346],[9.48,-.0378],[9.62,-.0406],[9.43,-.0433],[9.51,-.0462],
[9.87,-.026],[9.68,-.0321],[9.76,-.0362],[9.65,-.0394],[9.83,-.0425],
[9.96,-.0152],
[10.05,-.035],[9.98,-.0383],[10.08,-.0434],[10.1,-.0582],
[10.22,-.0331],[10.3,-.0377],[10.27,-.041],[10.2,-.0495],
[10.48,-.0302],[10.55,-.0363],[10.45,-.0396],[10.52,-.045],
[10.72,-.0404],[10.8,-.0468],[11.0,-.0355],[11.22,-.0416],[11.28,-.0431],[11.25,-.0517],[11.42,-.0445],[12.3,-.0507],[12.55,-.0507],[12.8,-.0501]
];

// Estimates from the proposed method: dense middle of the cloud
const proposedCorePts = [
[-3.43,.023],[-3.3,.0205],[-3.48,.0181],[-3.36,.0154],[-3.27,.0129],[-3.45,.0105],[-3.34,.008],[-3.5,.0056],[-3.29,.0033],
[-3.02,.0246],[-3.2,.0221],[-3.09,.0196],[-3.25,.0173],[-3.04,.0148],[-3.15,.0124],[-3.07,.0099],[-3.21,.0073],[-3.18,.0049],[-3.05,.0025],
[-2.79,.0234],[-2.9,.0209],[-2.82,.0182],[-2.96,.0159],[-2.93,.0135],[-2.8,.011],[-2.98,.0086],[-2.86,.0061],[-2.77,.0037],[-2.95,.0012],
[-2.73,.0229],[-2.61,.0203],[-2.52,.0179],[-2.7,.0156],[-2.59,.013],[-2.75,.0107],[-2.54,.0082],[-2.65,.0059],[-2.57,.0034],[-2.71,.0009],
[-2.34,.0237],[-2.5,.0212],[-2.29,.0186],[-2.4,.0162],[-2.32,.0137],[-2.46,.0114],[-2.43,.009],[-2.3,.0066],[-2.48,.0041],[-2.36,.0015],
[-2.07,.0224],[-2.21,.0199],[-2.18,.0175],[-2.05,.015],[-2.23,.0126],[-2.11,.0101],[-2.02,.0077],[-2.2,.0053],[-2.09,.0028],[-2.25,.0003],
[-1.8,.0216],[-1.98,.0192],[-1.86,.0167],[-1.77,.0143],[-1.95,.0119],[-1.84,.0094],[-2.0,.007],[-1.79,.0046],[-1.9,.0021],[-1.82,-.0005],
[-1.7,.0208],[-1.59,.0183],[-1.75,.0159],[-1.54,.0136],[-1.65,.0111],[-1.57,.0087],[-1.71,.0063],[-1.68,.0038],[-1.55,.0014],[-1.73,-.0011],
[-1.4,.0197],[-1.32,.0171],[-1.46,.0148],[-1.43,.0123],[-1.3,.0099],[-1.48,.0076],[-1.36,.0051],[-1.27,.0027],[-1.45,.0002],[-1.34,-.0024],
[-1.1,.0178],[-1.02,.0153],[-1.2,.0129],[-1.09,.0106],[-1.25,.0081],[-1.04,.0057],[-1.15,.0032],[-1.07,.0008],[-1.21,-.0017],[-1.18,-.0041],
[-1.0,.0149],[-0.79,.0124],[-0.9,.01],[-0.82,.0075],[-0.96,.0052],[-0.93,.0027],[-0.8,.0003],[-0.98,-.0022],[-0.86,-.0046],[-0.77,-.0069],
[-0.71,.0121],[-0.68,.0096],[-0.55,.0072],[-0.73,.0048],[-0.61,.0023],[-0.52,-.0001],[-0.7,-.0026],[-0.59,-.005],[-0.75,-.0075],[-0.54,-.0098],
[-0.43,.0083],[-0.3,.0059],[-0.48,.0034],[-0.36,.001],[-0.27,-.0015],[-0.45,-.0039],[-0.34,-.0063],[-0.5,-.0088],[-0.29,-.0112],[-0.4,-.0146],
[-0.01,.0057],[-0.2,.0032],[-0.09,.0008],[-0.25,-.0017],[-0.04,-.0041],[-0.15,-.0066],[-0.07,-.009],[-0.21,-.0114],[-0.18,-.0139],[-0.05,-.0163],
[0.22,.0029],[0.11,.0005],[0.19,-.002],[0.05,-.0044],[0.08,-.0068],[0.21,-.0093],[0.03,-.0117],[0.15,-.0141],[0.24,-.0166],[0.06,-.019],[0.17,-.0215],
[0.28,-.0002],[0.4,-.0027],[0.49,-.0051],[0.31,-.0076],[0.42,-.01],[0.26,-.0125],[0.47,-.0149],[0.36,-.0173],[0.44,-.0198],[0.3,-.0222],[0.33,-.0241],
[0.67,-.0024],[0.51,-.0049],[0.72,-.0073],[0.61,-.0097],[0.69,-.0122],[0.55,-.0146],[0.58,-.017],[0.71,-.0195],[0.53,-.0219],[0.65,-.0244],[0.74,-.0263],
[0.94,-.0044],[0.8,-.0069],[0.83,-.0093],[0.96,-.0118],[0.78,-.0142],[0.9,-.0166],[0.99,-.0191],[0.81,-.0215],[0.92,-.0239],[0.76,-.0264],[0.97,-.0288],
[1.2,-.0062],[1.03,-.0087],[1.15,-.0111],[1.24,-.0135],[1.06,-.016],[1.17,-.0184],[1.01,-.0209],[1.22,-.0233],[1.11,-.0257],[1.19,-.0282],[1.05,-.0306],
[1.31,-.0077],[1.42,-.0102],[1.26,-.0126],[1.47,-.015],[1.36,-.0175],[1.44,-.0199],[1.3,-.0223],[1.33,-.0248],[1.46,-.0272],[1.28,-.0297],[1.4,-.0325],
[1.61,-.0089],[1.69,-.0114],[1.55,-.0138],[1.58,-.0162],[1.71,-.0187],[1.53,-.0211],[1.65,-.0235],[1.74,-.026],[1.56,-.0284],[1.67,-.0309],[1.51,-.0338],
[1.9,-.0103],[1.99,-.0127],[1.81,-.0152],[1.92,-.0176],[1.76,-.02],[1.97,-.0225],[1.86,-.0249],[1.94,-.0273],[1.8,-.0298],[1.83,-.0322],[1.96,-.035],
[2.01,-.0114],[2.22,-.0139],[2.11,-.0163],[2.19,-.0188],[2.05,-.0212],[2.08,-.0236],[2.21,-.0261],[2.03,-.0285],[2.15,-.0309],[2.24,-.0334],
[2.3,-.0126],[2.33,-.015],[2.46,-.0175],[2.28,-.0199],[2.4,-.0223],[2.49,-.0248],[2.31,-.0272],[2.42,-.0297],[2.26,-.0321],[2.47,-.0346],
[2.58,-.0137],[2.71,-.0161],[2.53,-.0186],[2.65,-.021],[2.74,-.0234],[2.56,-.0259],[2.67,-.0283],[2.51,-.0308],[2.72,-.0332],[2.61,-.0354],
[2.99,-.0148],[2.81,-.0172],[2.92,-.0197],[2.76,-.0221],[2.97,-.0245],[2.86,-.027],[2.94,-.0294],[2.8,-.0319],[2.83,-.0343],[2.96,-.0365],
[3.22,-.0159],[3.11,-.0183],[3.19,-.0208],[3.05,-.0232],[3.08,-.0256],[3.21,-.0281],[3.03,-.0305],[3.15,-.0329],[3.24,-.0354],
[3.28,-.0168],[3.4,-.0192],[3.49,-.0217],[3.31,-.0241],[3.42,-.0265],[3.26,-.029],[3.47,-.0314],[3.36,-.0338],[3.44,-.0363],
[3.67,-.0176],[3.51,-.0201],[3.72,-.0225],[3.61,-.0249],[3.69,-.0274],[3.55,-.0298],[3.58,-.0323],[3.71,-.0347],[3.53,-.0371],
[3.94,-.0185],[3.8,-.0209],[3.83,-.0234],[3.96,-.0258],[3.78,-.0282],[3.9,-.0307],[3.99,-.0331],[3.81,-.0356],[3.92,-.0378],
[4.2,-.0194],[4.03,-.0218],[4.15,-.0243],[4.24,-.0267],[4.06,-.0291],[4.17,-.0316],[4.01,-.034],[4.22,-.0364],[4.11,-.0386],
[4.31,-.0202],[4.42,-.0226],[4.26,-.0251],[4.47,-.0275],[4.36,-.0299],[4.44,-.0324],[4.3,-.0348],[4.33,-.0373],
[4.61,-.0211],[4.69,-.0235],[4.55,-.026],[4.58,-.0284],[4.71,-.0308],[4.53,-.0333],[4.65,-.0357],[4.74,-.0382],
[4.9,-.022],[4.99,-.0244],[4.81,-.0269],[4.92,-.0293],[4.76,-.0317],[4.97,-.0342],[4.86,-.0366],[4.94,-.0391],
[5.01,-.0229],[5.22,-.0253],[5.11,-.0278],[5.19,-.0302],[5.05,-.0326],[5.08,-.0351],[5.21,-.0375],[5.03,-.0399],
[5.3,-.0238],[5.33,-.0262],[5.46,-.0287],[5.28,-.0311],[5.4,-.0335],[5.49,-.036],[5.31,-.0384],[5.42,-.0408],
[5.58,-.0249],[5.71,-.0273],[5.53,-.0298],[5.65,-.0322],[5.74,-.0346],[5.56,-.0371],[5.67,-.0395],[5.51,-.0419],
[5.99,-.0258],[5.81,-.0282],[5.92,-.0307],[5.76,-.0331],[5.97,-.0355],[5.86,-.038],[5.94,-.0404],[5.8,-.0426],
[6.22,-.0267],[6.11,-.0291],[6.19,-.0316],[6.05,-.034],[6.08,-.0364],[6.21,-.0389],[6.03,-.0413],[6.15,-.0435],
[6.28,-.0278],[6.4,-.0302],[6.49,-.0327],[6.31,-.0351],[6.42,-.0375],[6.26,-.04],[6.47,-.0424],[6.36,-.0446],
[6.67,-.0289],[6.51,-.0313],[6.72,-.0338],[6.61,-.0362],[6.69,-.0386],[6.55,-.0411],[6.58,-.0435],[6.71,-.0457],
[6.94,-.03],[6.8,-.0324],[6.83,-.0349],[6.96,-.0373],[6.78,-.0397],[6.9,-.0422],[6.99,-.0446],
[7.2,-.0309],[7.03,-.0333],[7.15,-.0358],[7.24,-.0382],[7.06,-.0406],[7.17,-.0431],[7.01,-.0455],
[7.31,-.0319],[7.42,-.0343],[7.26,-.0368],[7.47,-.0392],[7.36,-.0416],[7.44,-.0441],[7.3,-.0465],
[7.61,-.0329],[7.69,-.0353],[7.55,-.0378],[7.58,-.0402],[7.71,-.0426],[7.53,-.0451],[7.65,-.0473],
[7.9,-.0338],[7.99,-.0362],[7.81,-.0387],[7.92,-.0411],[7.76,-.0435],[7.97,-.046],[7.86,-.0482],
[8.01,-.035],[8.22,-.0374],[8.11,-.0399],[8.19,-.0423],[8.05,-.0447],[8.08,-.0472],
[8.3,-.0361],[8.33,-.0385],[8.46,-.041],[8.28,-.0434],[8.4,-.0458],[8.49,-.0481],
[8.58,-.037],[8.71,-.0394],[8.53,-.0419],[8.65,-.0443],[8.74,-.0467],
[8.99,-.0376],[8.81,-.04],[8.92,-.0425],[8.76,-.0449]
];

// Estimates from the B2 method: outer spread
const b2Pts = [
[-7.17,.023],[-6.1,.0211],[-6.05,.0196],[-5.99,.0168],[-6.02,.0153],[-5.85,.0239],[-5.8,.0142],[-5.72,.0262],[-5.65,.0198],[-5.6,.0121],[-5.55,.0174],[-5.48,.0283],[-5.42,.0229],[-5.39,.0155],[-5.3,.0097],[-5.25,.0206],[-5.2,.0303],[-5.1,.011],[-5.12,.0181],[-5.05,.0249],[-4.98,.0138],[-4.92,.0075],[-4.88,.0217],[-4.8,.0166],[-4.75,.0269],[-4.7,.0104],[-4.64,.0191],[-4.56,.0307],[-4.5,.0142],[-4.45,.0233],[-4.42,.0068],[-4.36,.0175],[-4.3,.0252],[-4.27,.0118],[-4.2,.0201],[-4.15,.0039],[-4.1,.0156],[-4.05,.0284],[-4.02,.0088],[-3.98,.0227],[-5.3,.0265],[-4.6,.0044],[-4.85,.0123],[-5.5,.0081],[-4.4,.0211],[-4.7,.0248],[-4.25,.0144],[-4.9,.0192],[-4.12,.0067],[-4.55,.0168],
[-3.66,.0319],[-3.81,.0264],[-3.62,.0228],[-3.86,.0195],[-3.71,.0167],[-3.88,.0136],[-3.68,.0109],[-3.78,.0078],[-3.64,.0051],[-3.84,.002],[-3.73,-.0024],[-3.87,-.009],
[-3.46,.0405],[-3.63,.0291],[-3.43,.0246],[-3.53,.0213],[-3.39,.0182],[-3.59,.0154],[-3.48,.0123],[-3.62,.0096],[-3.4,.0067],[-3.57,.0039],[-3.45,.0006],[-3.51,-.0041],
[-3.14,.0352],[-3.34,.0305],[-3.23,.0259],[-3.37,.0227],[-3.15,.0198],[-3.32,.0171],[-3.2,.0144],[-3.26,.0115],[-3.16,.0089],[-3.31,.0058],[-3.12,.0027],[-3.36,-.0013],[-3.21,-.0068],
[-2.9,.0326],[-3.07,.0278],[-2.95,.0241],[-3.01,.0212],[-2.91,.0185],[-3.06,.0158],[-2.87,.0131],[-3.11,.0103],[-2.96,.0074],[-3.13,.0046],[-2.93,.0015],[-3.03,-.0029],[-2.89,-.009],
[-2.62,.0411],[-2.86,.0309],[-2.71,.0265],[-2.88,.0233],[-2.68,.0204],[-2.78,.0176],[-2.64,.0149],[-2.84,.0122],[-2.73,.0094],[-2.87,.0065],[-2.65,.0033],[-2.82,.0001],[-2.7,-.0048],[-2.76,-.0111],
[-2.43,.0502],[-2.53,.045],[-2.39,.0337],[-2.59,.0282],[-2.48,.0249],[-2.62,.0218],[-2.4,.019],[-2.57,.0163],[-2.45,.0135],[-2.51,.0106],[-2.41,.0078],[-2.56,.0047],[-2.37,.0012],[-2.61,-.0034],
[-2.23,.0419],[-2.37,.036],[-2.15,.0296],[-2.32,.026],[-2.2,.0229],[-2.26,.0201],[-2.16,.0174],[-2.31,.0146],[-2.12,.0118],[-2.36,.0089],[-2.21,.0059],[-2.38,.0026],[-2.18,-.0018],[-2.28,-.0083],
[-1.95,.0451],[-2.01,.0383],[-1.91,.0312],[-2.06,.0271],[-1.87,.024],[-2.11,.0211],[-1.96,.0183],[-2.13,.0155],[-1.93,.0127],[-2.03,.0098],[-1.89,.0068],[-2.09,.0035],[-1.98,-.0002],[-2.12,-.0057],[-1.9,-.011],
[-1.86,.0426],[-1.71,.0358],[-1.88,.0319],[-1.68,.0277],[-1.78,.0245],[-1.64,.0216],[-1.84,.0188],[-1.73,.016],[-1.87,.0131],[-1.65,.0102],[-1.82,.0071],[-1.7,.0039],[-1.76,.0003],[-1.66,-.0046],
[-1.53,.0426],[-1.39,.0342],[-1.59,.0293],[-1.48,.0255],[-1.62,.0223],[-1.4,.0195],[-1.57,.0167],[-1.45,.0139],[-1.51,.011],[-1.41,.008],[-1.56,.0049],[-1.37,.0016],[-1.61,-.0023],[-1.46,-.0079],
[-1.04,.0465],[-1.15,.0368],[-1.32,.0314],[-1.2,.0268],[-1.26,.0233],[-1.16,.0203],[-1.31,.0174],[-1.12,.0145],[-1.36,.0116],[-1.21,.0086],[-1.38,.0055],[-1.18,.0022],[-1.28,-.0015],[-1.14,-.0064],[-1.34,-.0132],
[-1.06,.0397],[-0.87,.0331],[-1.11,.028],[-0.96,.0242],[-1.13,.021],[-0.93,.018],[-1.03,.0151],[-0.89,.0122],[-1.09,.0092],[-0.98,.0061],[-1.12,.0029],[-0.9,-.0006],[-1.07,-.0046],[-0.95,-.0099],
[-0.72,.04],[-0.68,.0305],[-0.78,.0264],[-0.64,.0228],[-0.84,.0197],[-0.73,.0168],[-0.87,.0139],[-0.65,.0109],[-0.82,.0079],[-0.7,.0048],[-0.76,.0015],[-0.66,-.0021],[-0.81,-.0064],[-0.62,-.0126],
[-0.59,.034],[-0.48,.0272],[-0.62,.0234],[-0.4,.0201],[-0.57,.0171],[-0.45,.0141],[-0.51,.0111],[-0.41,.0081],[-0.56,.005],[-0.37,.0018],[-0.61,-.0016],[-0.46,-.0053],[-0.63,-.0098],[-0.43,-.0165],
[-0.32,.0293],[-0.2,.0246],[-0.26,.0209],[-0.16,.0177],[-0.31,.0146],[-0.12,.0116],[-0.36,.0085],[-0.21,.0054],[-0.38,.0022],[-0.18,-.0011],[-0.28,-.0046],[-0.14,-.0085],[-0.34,-.0132],[-0.23,-.0201],
[0.05,.0419],[-0.06,.0262],[0.13,.0215],[-0.11,.0179],[0.04,.0148],[-0.13,.0117],[0.07,.0086],[-0.03,.0055],[0.11,.0023],[-0.09,-.0009],[0.02,-.0043],[-0.12,-.0079],[0.1,-.0119],[-0.07,-.0166],[0.05,-.0227],
[0.29,.0235],[0.12,.0186],[0.32,.015],[0.22,.0118],[0.36,.0087],[0.16,.0056],[0.27,.0024],[0.13,-.0008],[0.35,-.0041],[0.18,-.0075],[0.3,-.0111],[0.24,-.015],[0.34,-.0196],[0.19,-.026],
[0.61,.0202],[0.41,.0154],[0.52,.0118],[0.38,.0086],[0.6,.0055],[0.43,.0023],[0.55,-.0009],[0.49,-.0042],[0.59,-.0075],[0.44,-.0109],[0.63,-.0145],[0.39,-.0184],[0.54,-.0229],[0.37,-.0283],
[0.85,.0169],[0.68,.0117],[0.8,.0081],[0.74,.0049],[0.84,.0017],[0.69,-.0015],[0.88,-.0047],[0.64,-.008],[0.79,-.0113],[0.62,-.0147],[0.82,-.0182],[0.72,-.0219],[0.86,-.0261],[0.66,-.0314],
[0.93,.0348],[0.89,.0143],[1.04,.0088],[0.87,.0049],[1.07,.0016],[0.97,-.0016],[1.11,-.0048],[0.91,-.0081],[1.02,-.0114],[0.88,-.0147],[1.1,-.0181],[0.93,-.0216],[1.05,-.0254],[0.99,-.0299],[1.09,-.0362],
[1.32,.012],[1.22,.0064],[1.36,.0026],[1.16,-.0007],[1.27,-.0039],[1.13,-.0071],[1.35,-.0103],[1.18,-.0135],[1.3,-.0168],[1.24,-.0201],[1.34,-.0235],[1.19,-.0271],[1.38,-.0312],[1.14,-.0374],
[1.52,.0164],[1.38,.0081],[1.6,.0034],[1.43,-.0004],[1.55,-.0037],[1.49,-.0069],[1.59,-.0101],[1.44,-.0133],[1.63,-.0165],[1.39,-.0197],[1.54,-.023],[1.37,-.0264],[1.57,-.0301],[1.47,-.0346],[1.61,-.0418],
[1.8,.0102],[1.74,.0042],[1.84,.0002],[1.69,-.0033],[1.88,-.0066],[1.64,-.0098],[1.79,-.013],[1.62,-.0162],[1.82,-.0194],[1.72,-.0226],[1.86,-.0259],[1.66,-.0293],[1.77,-.033],[1.63,-.0379],[1.85,-.0441],
[1.89,.0136],[2.04,.0068],[1.87,.0017],[2.07,-.0022],[1.97,-.0057],[2.11,-.009],[1.91,-.0122],[2.02,-.0154],[1.88,-.0186],[2.1,-.0218],[1.93,-.025],[2.05,-.0283],[1.99,-.0318],[2.09,-.0358],[1.94,-.0413],[2.13,-.0498],
[2.22,.0084],[2.36,.0021],[2.16,-.002],[2.27,-.0056],[2.13,-.0089],[2.35,-.0121],[2.18,-.0153],[2.3,-.0185],[2.24,-.0217],[2.34,-.0249],[2.19,-.0281],[2.38,-.0314],[2.14,-.0349],[2.29,-.039],[2.12,-.0436],[2.32,-.0556],
[2.38,.0047],[2.6,-.0008],[2.43,-.0049],[2.55,-.0084],[2.49,-.0117],[2.59,-.0149],[2.44,-.0181],[2.63,-.0213],[2.39,-.0245],[2.54,-.0277],[2.37,-.0309],[2.57,-.0343],[2.47,-.038],[2.61,-.0428],[2.41,-.0539],
[2.74,.0196],[2.84,.0073],[2.69,.0011],[2.88,-.0036],[2.64,-.0075],[2.79,-.011],[2.62,-.0143],[2.82,-.0175],[2.72,-.0207],[2.86,-.0239],[2.66,-.0271],[2.77,-.0303],[2.63,-.0336],[2.85,-.0372],[2.68,-.0419],[2.8,-.0471],
[3.04,.0029],[2.87,-.0028],[3.07,-.007],[2.97,-.0106],[3.11,-.0139],[2.91,-.0171],[3.02,-.0203],[2.88,-.0235],[3.1,-.0267],[2.93,-.0299],[3.05,-.0331],[2.99,-.0365],[3.09,-.0406],[2.94,-.0458],
[3.0,.019],
[3.36,.0103],[3.16,.0034],[3.27,-.0018],[3.13,-.0061],[3.35,-.0098],[3.18,-.0132],[3.3,-.0165],[3.24,-.0197],[3.34,-.0229],[3.19,-.0261],[3.38,-.0293],[3.14,-.0325],[3.29,-.0358],[3.12,-.0395],[3.32,-.0447],
[3.6,.0142],[3.43,.0005],[3.55,-.0045],[3.49,-.0086],[3.59,-.0122],[3.44,-.0155],[3.63,-.0187],[3.39,-.0219],[3.54,-.0251],[3.37,-.0283],[3.57,-.0315],[3.47,-.0348],[3.61,-.0383],[3.41,-.0429],
[3.69,.0226],[3.88,.0069],[3.64,-.0021],[3.79,-.0074],[3.62,-.0115],[3.82,-.0151],[3.72,-.0184],[3.86,-.0216],[3.66,-.0248],[3.77,-.028],[3.63,-.0312],[3.85,-.0344],[3.68,-.0377],[3.8,-.0413],[3.74,-.0465],
[3.87,.0017],[4.07,-.0049],[3.97,-.0096],[4.11,-.0135],[3.91,-.0169],[4.02,-.0201],[3.88,-.0233],[4.1,-.0265],[3.93,-.0297],[4.05,-.0329],[3.99,-.0361],[4.09,-.0395],[3.94,-.0444],
[4.16,.0083],[4.27,-.0016],[4.13,-.0078],[4.35,-.0122],[4.18,-.0159],[4.3,-.0193],[4.24,-.0225],[4.34,-.0257],[4.19,-.0289],[4.38,-.0321],[4.14,-.0353],[4.29,-.0386],[4.12,-.0424],[4.32,-.0477],
[4.43,.0039],[4.55,-.0044],[4.49,-.0101],[4.59,-.0143],[4.44,-.0179],[4.63,-.0212],[4.39,-.0244],[4.54,-.0276],[4.37,-.0308],[4.57,-.034],[4.47,-.0372],[4.61,-.0406],[4.41,-.0451],
[4.84,-.0026],[4.69,-.0083],[4.88,-.0127],[4.64,-.0165],[4.79,-.0199],[4.62,-.0231],[4.82,-.0263],[4.72,-.0295],[4.86,-.0327],[4.66,-.0359],[4.77,-.0392],[4.63,-.0427],[4.85,-.048],
[5.04,.0006],[4.87,-.0069],[5.07,-.012],[4.97,-.016],[5.11,-.0195],[4.91,-.0228],[5.02,-.026],[4.88,-.0292],[5.1,-.0324],[4.93,-.0356],[5.05,-.0388],[4.99,-.0421],[5.09,-.0463],
[5.36,-.0042],[5.16,-.0104],[5.27,-.0149],[5.13,-.0187],[5.35,-.0221],[5.18,-.0253],[5.3,-.0285],[5.24,-.0317],[5.34,-.0349],[5.19,-.0381],[5.38,-.0414],[5.14,-.0449],
[5.6,-.0015],[5.43,-.0087],[5.55,-.0136],[5.49,-.0177],[5.59,-.0213],[5.44,-.0246],[5.63,-.0278],[5.39,-.031],[5.54,-.0342],[5.37,-.0374],[5.57,-.0407],[5.47,-.0442],[5.61,-.0493],
[5.69,.001],[5.88,-.0062],[5.64,-.0124],[5.79,-.0168],[5.62,-.0206],[5.82,-.024],[5.72,-.0272],[5.86,-.0304],[5.66,-.0336],[5.77,-.0368],[5.63,-.0401],[5.85,-.0436],[5.68,-.0474],
[5.87,-.0095],[6.07,-.0148],[5.97,-.0191],[6.11,-.0228],[5.91,-.0262],[6.02,-.0294],[5.88,-.0326],[6.1,-.0358],[5.93,-.039],[6.05,-.0423],[5.99,-.0458],[6.09,-.0502],
[6.16,-.0053],[6.27,-.0126],[6.13,-.0176],[6.35,-.0217],[6.18,-.0253],[6.3,-.0286],[6.24,-.0318],[6.34,-.035],[6.19,-.0382],[6.38,-.0415],[6.14,-.045],[6.29,-.0494],
[6.43,-.0081],[6.55,-.0159],[6.49,-.0206],[6.59,-.0245],[6.44,-.028],[6.63,-.0313],[6.39,-.0345],[6.54,-.0377],[6.37,-.0409],[6.57,-.0442],[6.47,-.0478],[6.61,-.0529],[6.41,-.0576],
[6.84,-.0036],[6.69,-.0114],[6.88,-.0183],[6.64,-.023],[6.79,-.0269],[6.62,-.0304],[6.82,-.0337],[6.72,-.0369],[6.86,-.0401],[6.66,-.0434],[6.77,-.0469],[6.63,-.0512],[6.85,-.0561],
[7.04,-.0097],[6.87,-.0162],[7.07,-.0215],[6.97,-.0258],[7.11,-.0296],[6.91,-.033],[7.02,-.0363],[6.88,-.0395],[7.1,-.0427],[6.93,-.046],[7.05,-.0496],[6.99,-.0544],
[7.36,-.0131],[7.16,-.0194],[7.27,-.0244],[7.13,-.0285],[7.35,-.0321],[7.18,-.0355],[7.3,-.0388],[7.24,-.042],[7.34,-.0453],[7.19,-.0488],[7.38,-.0533],
[7.6,-.017],[7.43,-.0223],[7.55,-.0269],[7.49,-.0308],[7.59,-.0344],[7.44,-.0378],[7.63,-.0411],[7.39,-.0444],[7.54,-.0478],[7.37,-.0516],[7.57,-.057],
[7.69,-.0152],[7.88,-.021],[7.64,-.026],[7.79,-.0302],[7.62,-.034],[7.82,-.0375],[7.72,-.0408],[7.86,-.0441],[7.66,-.0475],[7.77,-.0511],[7.63,-.0554],
[7.87,-.0196],[8.07,-.0253],[7.97,-.0299],[8.11,-.0339],[7.91,-.0375],[8.02,-.0409],[7.88,-.0442],[8.1,-.0476],[7.93,-.0513],[8.05,-.0563],[8.07,-.0613],
[8.16,-.0221],[8.27,-.0278],[8.13,-.0321],[8.35,-.0358],[8.18,-.0392],[8.3,-.0425],[8.24,-.0458],[8.34,-.0494],[8.19,-.0538],[8.38,-.0587],
[8.43,-.0245],[8.55,-.0297],[8.49,-.0338],[8.59,-.0374],[8.44,-.0408],[8.63,-.0441],[8.39,-.0475],[8.54,-.0515],[8.37,-.0564],
[8.84,-.0214],[8.69,-.0286],[8.88,-.0332],[8.64,-.037],[8.79,-.0405],[8.62,-.0439],[8.82,-.0476],[8.72,-.0528],
[9.04,-.0263],[8.87,-.0324],[9.07,-.0365],[8.97,-.0401],[9.11,-.0436],[8.91,-.0474],[9.02,-.0519],
[9.36,-.0295],[9.16,-.0346],[9.27,-.0386],[9.13,-.0423],[9.35,-.0461],[9.18,-.0507],
[9.6,-.0277],[9.43,-.0339],[9.55,-.0382],[9.49,-.0422],[9.59,-.0468],[9.44,-.0535],
[9.69,-.029],[9.88,-.0357],[9.64,-.0403],[9.79,-.045],[9.62,-.0514],
[10.07,-.0331],[9.97,-.0388],[10.11,-.0439],[9.91,-.0505],
[10.4,-.0219],[10.27,-.0367],[10.13,-.0418],[10.35,-.0483],[10.42,-.0602],
[10.55,-.037],[10.49,-.0446],[10.59,-.0573],[10.44,-.0594],
[10.95,-.0222],[10.8,-.0411],[10.9,-.0515],[11.2,-.0468],[11.3,-.0475],[11.23,-.0602],[11.35,-.0609],[12.2,-.0571],[12.46,-.0522],[12.87,-.0549]
];

// Estimates from the B2 method: dense middle of the cloud
const b2CorePts = [
[-3.68,.0251],[-3.55,.022],[-3.73,.0191],[-3.61,.016],[-3.52,.0132],[-3.7,.0101],[-3.59,.0073],[-3.75,.0042],[-3.54,.0014],[-3.65,-.0016],
[-3.27,.0273],[-3.45,.0242],[-3.34,.0214],[-3.5,.0183],[-3.29,.0155],[-3.4,.0124],[-3.32,.0096],[-3.46,.0065],[-3.43,.0037],[-3.3,.0006],[-3.48,-.0025],
[-3.04,.028],[-3.15,.0249],[-3.07,.0221],[-3.21,.019],[-3.18,.0162],[-3.05,.0131],[-3.23,.0103],[-3.11,.0072],[-3.02,.0044],[-3.2,.0013],[-3.09,-.0015],[-3.25,-.0042],
[-2.98,.0286],[-2.86,.0255],[-2.77,.0227],[-2.95,.0196],[-2.84,.0168],[-3.0,.0137],[-2.79,.0109],[-2.9,.0078],[-2.82,.005],[-2.96,.0019],[-2.93,-.0009],[-2.8,-.004],
[-2.59,.0298],[-2.75,.0267],[-2.54,.0239],[-2.65,.0208],[-2.57,.018],[-2.71,.0149],[-2.68,.0121],[-2.55,.009],[-2.73,.0062],[-2.61,.0031],[-2.52,.0003],[-2.7,-.0028],[-2.59,-.0056],
[-2.32,.0289],[-2.46,.0258],[-2.43,.023],[-2.3,.0199],[-2.48,.0171],[-2.36,.014],[-2.27,.0112],[-2.45,.0081],[-2.34,.0053],[-2.5,.0022],[-2.29,-.0006],[-2.4,-.0037],
[-2.05,.0281],[-2.23,.025],[-2.11,.0222],[-2.02,.0191],[-2.2,.0163],[-2.09,.0132],[-2.25,.0104],[-2.04,.0073],[-2.15,.0045],[-2.07,.0014],[-2.21,-.0014],[-2.18,-.0045],[-2.05,-.007],
[-1.95,.0272],[-1.84,.0241],[-2.0,.0213],[-1.79,.0182],[-1.9,.0154],[-1.82,.0123],[-1.96,.0095],[-1.93,.0064],[-1.8,.0036],[-1.98,.0005],[-1.86,-.0023],[-1.77,-.0054],
[-1.65,.0264],[-1.57,.0233],[-1.71,.0205],[-1.68,.0174],[-1.55,.0146],[-1.73,.0115],[-1.61,.0087],[-1.52,.0056],[-1.7,.0028],[-1.59,-.0003],[-1.75,-.0031],[-1.54,-.0062],[-1.65,-.0088],
[-1.36,.0255],[-1.27,.0224],[-1.45,.0196],[-1.34,.0165],[-1.5,.0137],[-1.29,.0106],[-1.4,.0078],[-1.32,.0047],[-1.46,.0019],[-1.43,-.0012],[-1.3,-.004],[-1.48,-.0071],[-1.36,-.0097],
[-1.25,.0237],[-1.04,.0206],[-1.15,.0178],[-1.07,.0147],[-1.21,.0119],[-1.18,.0088],[-1.05,.006],[-1.23,.0029],[-1.11,.0001],[-1.02,-.003],[-1.2,-.0058],[-1.09,-.0089],[-1.25,-.0113],
[-0.96,.0216],[-0.93,.0185],[-0.8,.0157],[-0.98,.0126],[-0.86,.0098],[-0.77,.0067],[-0.95,.0039],[-0.84,.0008],[-1.0,-.002],[-0.79,-.0051],[-0.9,-.0079],[-0.82,-.011],[-0.96,-.0132],
[-0.68,.0195],[-0.55,.0164],[-0.73,.0136],[-0.61,.0105],[-0.52,.0077],[-0.7,.0046],[-0.59,.0018],[-0.75,-.0013],[-0.54,-.0041],[-0.65,-.0072],[-0.57,-.01],[-0.71,-.0131],[-0.68,-.0154],
[-0.27,.0168],[-0.45,.0137],[-0.34,.0109],[-0.5,.0078],[-0.29,.005],[-0.4,.0019],[-0.32,-.0009],[-0.46,-.004],[-0.43,-.0068],[-0.3,-.0099],[-0.48,-.0127],[-0.36,-.0158],
[-0.04,.0136],[-0.15,.0105],[-0.07,.0077],[-0.21,.0046],[-0.18,.0018],[-0.05,-.0013],[-0.23,-.0041],[-0.11,-.0072],[-0.02,-.01],[-0.2,-.0131],[-0.09,-.0159],[-0.25,-.0187],
[0.03,.0104],[0.15,.0073],[0.24,.0045],[0.06,.0014],[0.17,-.0014],[0.01,-.0045],[0.22,-.0073],[0.11,-.0104],[0.19,-.0132],[0.05,-.0163],[0.08,-.0191],[0.21,-.0218],
[0.42,.0075],[0.26,.0044],[0.47,.0016],[0.36,-.0015],[0.44,-.0043],[0.3,-.0074],[0.33,-.0102],[0.46,-.0133],[0.28,-.0161],[0.4,-.0192],[0.49,-.022],[0.31,-.0243],
[0.69,.0046],[0.55,.0015],[0.58,-.0013],[0.71,-.0044],[0.53,-.0072],[0.65,-.0103],[0.74,-.0131],[0.56,-.0162],[0.67,-.019],[0.51,-.0221],[0.72,-.0249],
[0.96,.0017],[0.78,-.0014],[0.9,-.0042],[0.99,-.0073],[0.81,-.0101],[0.92,-.0132],[0.76,-.016],[0.97,-.0191],[0.86,-.0219],[0.94,-.025],[0.8,-.0276],
[1.06,-.0004],[1.17,-.0035],[1.01,-.0063],[1.22,-.0094],[1.11,-.0122],[1.19,-.0153],[1.05,-.0181],[1.08,-.0212],[1.21,-.024],[1.03,-.0271],[1.15,-.0297],
[1.36,-.0023],[1.44,-.0054],[1.3,-.0082],[1.33,-.0113],[1.46,-.0141],[1.28,-.0172],[1.4,-.02],[1.49,-.0231],[1.31,-.0259],[1.42,-.029],[1.26,-.0316],
[1.65,-.0045],[1.74,-.0076],[1.56,-.0104],[1.67,-.0135],[1.51,-.0163],[1.72,-.0194],[1.61,-.0222],[1.69,-.0253],[1.55,-.0281],[1.58,-.0312],[1.71,-.0338],
[1.76,-.0061],[1.97,-.0092],[1.86,-.012],[1.94,-.0151],[1.8,-.0179],[1.83,-.021],[1.96,-.0238],[1.78,-.0269],[1.9,-.0297],[1.99,-.0328],[1.81,-.0351],
[2.05,-.008],[2.08,-.0111],[2.21,-.0139],[2.03,-.017],[2.15,-.0198],[2.24,-.0229],[2.06,-.0257],[2.17,-.0288],[2.01,-.0316],[2.22,-.0345],
[2.33,-.0098],[2.46,-.0129],[2.28,-.0157],[2.4,-.0188],[2.49,-.0216],[2.31,-.0247],[2.42,-.0275],[2.26,-.0306],[2.47,-.0334],[2.36,-.0362],
[2.74,-.0112],[2.56,-.0143],[2.67,-.0171],[2.51,-.0202],[2.72,-.023],[2.61,-.0261],[2.69,-.0289],[2.55,-.032],[2.58,-.0348],[2.71,-.0375],
[2.97,-.0124],[2.86,-.0155],[2.94,-.0183],[2.8,-.0214],[2.83,-.0242],[2.96,-.0273],[2.78,-.0301],[2.9,-.0332],[2.99,-.036],[2.81,-.0386],
[3.03,-.0135],[3.15,-.0166],[3.24,-.0194],[3.06,-.0225],[3.17,-.0253],[3.01,-.0284],[3.22,-.0312],[3.11,-.0343],[3.19,-.0371],[3.05,-.0396],
[3.42,-.0143],[3.26,-.0174],[3.47,-.0202],[3.36,-.0233],[3.44,-.0261],[3.3,-.0292],[3.33,-.032],[3.46,-.0351],[3.28,-.0379],
[3.69,-.0153],[3.55,-.0184],[3.58,-.0212],[3.71,-.0243],[3.53,-.0271],[3.65,-.0302],[3.74,-.033],[3.56,-.0361],[3.67,-.0389],
[3.96,-.0162],[3.78,-.0193],[3.9,-.0221],[3.99,-.0252],[3.81,-.028],[3.92,-.0311],[3.76,-.0339],[3.97,-.037],[3.86,-.0398],
[4.06,-.0171],[4.17,-.0202],[4.01,-.023],[4.22,-.0261],[4.11,-.0289],[4.19,-.032],[4.05,-.0348],[4.08,-.0379],[4.21,-.0406],
[4.36,-.018],[4.44,-.0211],[4.3,-.0239],[4.33,-.027],[4.46,-.0298],[4.28,-.0329],[4.4,-.0357],[4.49,-.0388],[4.31,-.0415],
[4.65,-.019],[4.74,-.0221],[4.56,-.0249],[4.67,-.028],[4.51,-.0308],[4.72,-.0339],[4.61,-.0367],[4.69,-.0398],[4.55,-.0426],
[4.76,-.0199],[4.97,-.023],[4.86,-.0258],[4.94,-.0289],[4.8,-.0317],[4.83,-.0348],[4.96,-.0376],[4.78,-.0407],[4.9,-.0434],
[5.05,-.0209],[5.08,-.024],[5.21,-.0268],[5.03,-.0299],[5.15,-.0327],[5.24,-.0358],[5.06,-.0386],[5.17,-.0417],[5.01,-.0444],
[5.33,-.0218],[5.46,-.0249],[5.28,-.0277],[5.4,-.0308],[5.49,-.0336],[5.31,-.0367],[5.42,-.0395],[5.26,-.0426],[5.47,-.0449],
[5.74,-.0229],[5.56,-.026],[5.67,-.0288],[5.51,-.0319],[5.72,-.0347],[5.61,-.0378],[5.69,-.0406],[5.55,-.0437],
[5.97,-.0238],[5.86,-.0269],[5.94,-.0297],[5.8,-.0328],[5.83,-.0356],[5.96,-.0387],[5.78,-.0415],[5.9,-.0446],
[6.03,-.0248],[6.15,-.0279],[6.24,-.0307],[6.06,-.0338],[6.17,-.0366],[6.01,-.0397],[6.22,-.0425],[6.11,-.0456],
[6.42,-.0259],[6.26,-.029],[6.47,-.0318],[6.36,-.0349],[6.44,-.0377],[6.3,-.0408],[6.33,-.0436],[6.46,-.0467],
[6.69,-.0276],[6.55,-.0307],[6.58,-.0335],[6.71,-.0366],[6.53,-.0394],[6.65,-.0425],[6.74,-.0453],[6.56,-.0479],
[6.96,-.0287],[6.78,-.0318],[6.9,-.0346],[6.99,-.0377],[6.81,-.0405],[6.92,-.0436],[6.76,-.0464],[6.97,-.0488],
[7.06,-.0298],[7.17,-.0329],[7.01,-.0357],[7.22,-.0388],[7.11,-.0416],[7.19,-.0447],[7.05,-.0475],
[7.36,-.0309],[7.44,-.034],[7.3,-.0368],[7.33,-.0399],[7.46,-.0427],[7.28,-.0458],[7.4,-.0486],
[7.65,-.032],[7.74,-.0351],[7.56,-.0379],[7.67,-.041],[7.51,-.0438],[7.72,-.0469],[7.61,-.0495],
[7.76,-.0332],[7.97,-.0363],[7.86,-.0391],[7.94,-.0422],[7.8,-.045],[7.83,-.0481],
[8.05,-.0348],[8.08,-.0379],[8.21,-.0407],[8.03,-.0438],[8.15,-.0466],[8.24,-.0494],
[8.33,-.036],[8.46,-.0391],[8.28,-.0419],[8.4,-.045],[8.49,-.0478],
[8.74,-.0372],[8.56,-.0403],[8.67,-.0431],[8.51,-.0462]
];

const series = [truthPts, proposedPts.concat(proposedCorePts), b2Pts.concat(b2CorePts)];

// Figure layout
const panelLeft = [108, 507.5, 907.5];
const panelTop = 38;
const pw = 303.5, ph = 326;
const FONT = '"Liberation Sans", Arial, Helvetica, sans-serif';
const ink = '#262626';
const dotColor = '#0072BD';

const svg = d3.select('#fig').style('font-family', FONT);

const fmtX = d => String(d);
const fmtY = d => (d === 0 ? '0' : d.toFixed(2));

series.forEach((pts, i) => {
  const g = svg.append('g').attr('transform', `translate(${panelLeft[i]},${panelTop})`);
  const x = d3.scaleLinear().domain(xDomain).range([0, pw]);
  const y = d3.scaleLinear().domain(yDomain).range([ph, 0]);

  // scatter
  g.append('g').selectAll('circle').data(pts).join('circle')
    .attr('cx', d => x(d[0]))
    .attr('cy', d => y(d[1]))
    .attr('r', 1.6)
    .attr('fill', dotColor);

  const styleAxis = sel => {
    sel.select('.domain').remove();
    sel.selectAll('.tick line').attr('stroke', ink).attr('stroke-width', 1.2);
    sel.selectAll('.tick text').attr('fill', ink).style('font-size', '21px').style('font-family', FONT);
  };

  // bottom axis with labels, inward ticks
  g.append('g').attr('transform', `translate(0,${ph})`)
    .call(d3.axisBottom(x).tickValues(xTicks).tickSizeInner(-7).tickSizeOuter(0).tickPadding(13).tickFormat(fmtX))
    .call(styleAxis);
  // left axis with labels
  g.append('g')
    .call(d3.axisLeft(y).tickValues(yTicks).tickSizeInner(-7).tickSizeOuter(0).tickPadding(8).tickFormat(fmtY))
    .call(styleAxis)
    .call(s => s.selectAll('.tick text').attr('dy', '0.4em'));
  // top and right: ticks only
  g.append('g')
    .call(d3.axisTop(x).tickValues(xTicks).tickSizeInner(-7).tickSizeOuter(0).tickFormat(() => ''))
    .call(styleAxis);
  g.append('g').attr('transform', `translate(${pw},0)`)
    .call(d3.axisRight(y).tickValues(yTicks).tickSizeInner(-7).tickSizeOuter(0).tickFormat(() => ''))
    .call(styleAxis);

  // frame
  g.append('rect').attr('width', pw).attr('height', ph)
    .attr('fill', 'none').attr('stroke', ink).attr('stroke-width', 1.3);

  // title
  g.append('text').attr('x', pw / 2).attr('y', -6.5)
    .attr('text-anchor', 'middle').attr('fill', '#000')
    .style('font-size', '24.5px').style('font-weight', 'bold')
    .text(panelTitles[i]);

  // panel tag
  g.append('text').attr('x', 12).attr('y', 30)
    .attr('fill', '#000').style('font-size', '21px')
    .text(panelTags[i]);
});

// y-axis label: eta_j[k]
const yl = svg.append('text')
  .attr('transform', 'translate(43,205) rotate(-90)')
  .attr('text-anchor', 'middle').attr('fill', ink)
  .style('font-size', '22px');
yl.append('tspan').style('font-style', 'italic').style('font-family', '"Liberation Serif", "DejaVu Serif", serif').style('font-size', '25px').text('η');
yl.append('tspan').style('font-style', 'italic').style('font-size', '15px').attr('dy', '5').text('j');
yl.append('tspan').attr('dy', '-5').text('[k]');

// x-axis label: x_{i-1}[k]
const xl = svg.append('text')
  .attr('x', 664).attr('y', 423)
  .attr('text-anchor', 'middle').attr('fill', ink)
  .style('font-size', '22px');
xl.append('tspan').style('font-weight', 'bold').style('font-style', 'italic').text('x');
xl.append('tspan').style('font-style', 'italic').style('font-size', '15px').attr('dy', '7').text('i-1');
xl.append('tspan').attr('dy', '-7').text('[k]');
</script>
</body>
</html>
